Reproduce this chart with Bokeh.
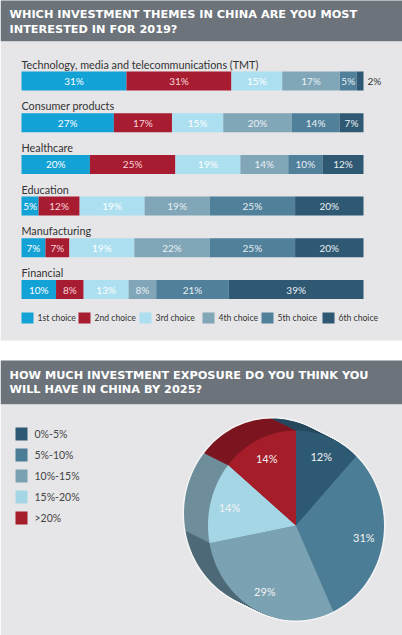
import numpy as np
from bokeh.plotting import figure
from bokeh.models import Range1d
from bokeh.core.properties import value
from bokeh.embed import file_html
from bokeh.resources import INLINE

# ---------------- data ----------------
themes = ["Technology, media and telecommunications (TMT)", "Consumer products",
          "Healthcare", "Education", "Manufacturing", "Financial"]
choices = ["1st choice", "2nd choice", "3rd choice", "4th choice", "5th choice", "6th choice"]
first = [31, 27, 20, 5, 7, 10]
second = [31, 17, 25, 12, 7, 8]
third = [15, 15, 19, 19, 19, 13]
fourth = [17, 20, 14, 19, 22, 8]
fifth = [5, 14, 10, 25, 25, 21]
sixth = [2, 7, 12, 20, 20, 39]

exposure_labels = ["0%-5%", "5%-10%", "10%-15%", "15%-20%", ">20%"]
exposure_values = [12, 31, 29, 14, 14]

title1 = ["WHICH INVESTMENT THEMES IN CHINA ARE YOU MOST", "INTERESTED IN FOR 2019?"]
title2 = ["HOW MUCH INVESTMENT EXPOSURE DO YOU THINK YOU", "WILL HAVE IN CHINA BY 2025?"]

# ---------------- styles ----------------
choice_colors = ["#12a2d6", "#a81c31", "#acdff0", "#80a6b8", "#50809a", "#2f5872"]
label_colors = ["#ffffff", "#f6d6db", "#ffffff", "#e8f0f4", "#e8f0f4", "#e8f0f4"]
pie_colors = ["#2e5973", "#4b7d96", "#7ba2b3", "#a5d6e6", "#a51d29"]
side_colors = ["#26495e", "#3d6579", "#4e6a78", "#6e8e9b", "#7c1620"]
HEADER = "#6c737a"
PANEL = "#e6e6e8"
TEXT = "#333333"
BODY = value("Lato")
BOLD = value("DejaVu Sans")

W, H = 402, 635
p = figure(width=W, height=H, x_range=Range1d(0, W), y_range=Range1d(H, 0),
           output_backend="svg", toolbar_location=None, min_border=0,
           background_fill_color="white", border_fill_color="white")
p.outline_line_color = None
p.axis.visible = False
p.grid.visible = False

# backgrounds
p.quad(left=[0, 0, 0, 0], right=[410, 410, 410, 410], top=[-5, 41, 360, 404],
       bottom=[41, 340, 404, 640], fill_color=[HEADER, PANEL, HEADER, PANEL], line_color=None)

# titles
p.text(x=[9, 9], y=[13.5, 28.5], text=title1, text_color="white", text_font=BOLD,
       text_font_style="bold", text_font_size="11.3px", text_baseline="middle")
p.text(x=[9, 9], y=[375, 389], text=title2, text_color="white", text_font=BOLD,
       text_font_style="bold", text_font_size="11.3px", text_baseline="middle")

# ---------------- stacked bars ----------------
series = [first, second, third, fourth, fifth, sixth]
x0, bw = 21, 342
row_y0, row_step, bar_h = 80.5, 41.7, 19
totals = [sum(s[i] for s in series) for i in range(len(themes))]
for i, theme in enumerate(themes):
    yc = row_y0 + i * row_step
    p.text(x=[x0], y=[yc - 17], text=[theme], text_color=TEXT, text_font=BODY,
           text_font_size="10.8px", text_baseline="alphabetic")
    cum = 0
    for j, s in enumerate(series):
        v = s[i]
        left = x0 + cum / totals[i] * bw
        right = x0 + (cum + v) / totals[i] * bw
        cum += v
        p.hbar(y=[yc], left=[left], right=[right], height=bar_h,
               fill_color=choice_colors[j], line_color=None)
        if right - left >= 12:
            p.text(x=[(left + right) / 2], y=[yc], text=[f"{v}%"], text_color=label_colors[j],
                   text_font=BODY, text_font_size="10px", text_align="center",
                   text_baseline="middle")
        else:
            p.text(x=[x0 + bw + 4], y=[yc], text=[f"{v}%"], text_color=TEXT,
                   text_font=BODY, text_font_size="10px", text_align="left",
                   text_baseline="middle")

# legend of bars
leg_x = [21, 78, 139, 202, 261, 322]
leg_y = 317.5
for j, c in enumerate(choices):
    p.rect(x=[leg_x[j] + 6], y=[leg_y], width=12, height=11, fill_color=choice_colors[j],
           line_color=None)
    p.text(x=[leg_x[j] + 16], y=[leg_y], text=[c], text_color=TEXT, text_font=BODY,
           text_font_size="8.6px", text_baseline="middle")

# ---------------- pie legend ----------------
for k, lab in enumerate(exposure_labels):
    ly = 433.5 + k * 21
    p.rect(x=[21], y=[ly], width=12, height=13, fill_color=pie_colors[k], line_color=None)
    p.text(x=[34], y=[ly], text=[lab], text_color="#444444", text_font=BODY,
           text_font_size="10.5px", text_baseline="middle")

# ---------------- 3D-ish pie ----------------
cx, cy, rx, ry = 295.5, 525, 88, 95
odx, ody, steps = -24, -12, 24
tot = sum(exposure_values)
angles = np.cumsum([0] + exposure_values) / tot * 2 * np.pi


def wedge(ox, oy, a0, a1, grow=0.0):
    n = max(4, int(120 * (a1 - a0) / (2 * np.pi)) + 2)
    t = np.linspace(a0, a1, n)
    xs = [cx + ox] + list(cx + ox + (rx + grow) * np.sin(t))
    ys = [cy + oy] + list(cy + oy - (ry + grow) * np.cos(t))
    return xs, ys


# halo
hx, hy = [], []
for k in range(0, steps + 1, 2):
    xs, ys = wedge(odx * k / steps, ody * k / steps, 0, 2 * np.pi, grow=1.5)
    hx.append(xs)
    hy.append(ys)
p.patches(hx, hy, fill_color="#f4f4f4", line_color=None)

# side
for k in range(steps, 0, -1):
    sx, sy = [], []
    for s in range(len(exposure_values)):
        xs, ys = wedge(odx * k / steps, ody * k / steps, angles[s], angles[s + 1])
        sx.append(xs)
        sy.append(ys)
    p.patches(sx, sy, fill_color=side_colors, line_color=None)

# face
fx, fy = [], []
for s in range(len(exposure_values)):
    xs, ys = wedge(0, 0, angles[s], angles[s + 1])
    fx.append(xs)
    fy.append(ys)
p.patches(fx, fy, fill_color=pie_colors, line_color=None)

mid = (angles[:-1] + angles[1:]) / 2
lab_f = 0.78
p.text(x=list(cx + rx * lab_f * np.sin(mid)), y=list(cy - ry * lab_f * np.cos(mid)),
       text=[f"{v}%" for v in exposure_values], text_color="#f2f2f2", text_font=BODY,
       text_font_size="11px", text_align="center", text_baseline="middle")

open("out.html", "w").write(file_html(p, INLINE))
